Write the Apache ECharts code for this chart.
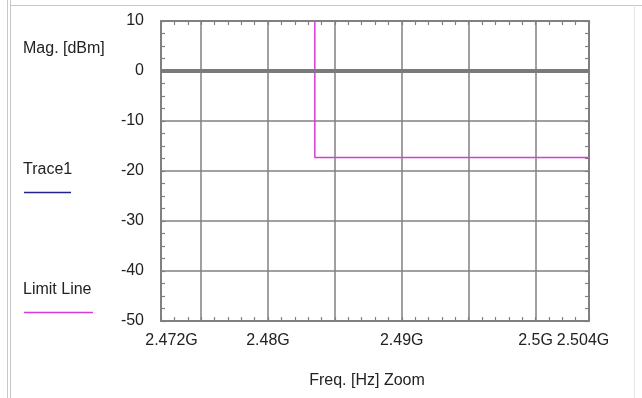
<!DOCTYPE html>
<html><head><meta charset="utf-8">
<script src="https://cdn.jsdelivr.net/npm/echarts@6/dist/echarts.min.js"></script>
<style>html,body{margin:0;padding:0;background:#fff}#c{width:642px;height:398px}</style>
</head><body><div id="c"></div><script>
// Frequencies in MHz, magnitudes in dBm
const freqMin = 2472, freqMax = 2504;
const magMin = -50, magMax = 10;
const xTickLabels = {2472: '2.472G', 2480: '2.48G', 2490: '2.49G', 2500: '2.5G', 2504: '2.504G'};
const gridFreqs = [2475, 2480, 2485, 2490, 2495, 2500];
const refLevels = [0];
const trace1Freq = [];
const trace1Mag = [];
const limitFreq = [2483.5, 2483.5, 2504];
const limitMag = [10, -17.3, -17.3];
const seriesNames = ['Trace1', 'Limit Line'];
const xAxisName = 'Freq. [Hz] Zoom';
const yAxisName = 'Mag. [dBm]';

const FONT = 'Liberation Sans';
const FS = 16;
const AX = '#808080';
const MAG = '#d63cd6';
const NAVY = '#23238f';

const chart = echarts.init(document.getElementById('c'), null, {renderer: 'canvas'});

function xLabel(v) {
  const k = Math.round(v);
  const t = xTickLabels[k];
  if (!t) return '';
  if (k === freqMin) return '{l|' + t + '}';
  if (k === freqMax) return '{r|' + t + '}';
  return t;
}

const baseX = {
  type: 'value', min: freqMin, max: freqMax, interval: 1,
  axisLine: {show: true, onZero: false, lineStyle: {color: AX, width: 2}},
  axisTick: {show: true, inside: true, length: 4, lineStyle: {color: AX, width: 1.2}},
  splitLine: {show: false}
};
const baseY = {
  type: 'value', min: magMin, max: magMax, interval: 10,
  axisLine: {show: true, onZero: false, lineStyle: {color: AX, width: 2}},
  axisTick: {show: true, inside: true, length: 4, lineStyle: {color: AX, width: 1.2}},
  minorTick: {show: true, splitNumber: 4, length: 4, lineStyle: {color: AX, width: 1.2}}
};

const option = {
  animation: false,
  backgroundColor: '#fff',
  textStyle: {fontFamily: FONT},
  grid: {left: 161, right: 53, top: 21, bottom: 77, containLabel: false},
  xAxis: [
    Object.assign({}, baseX, {
      position: 'bottom',
      axisLabel: {
        show: true, margin: 12, color: '#222', fontSize: FS, fontFamily: FONT,
        formatter: xLabel,
        rich: {
          l: {fontSize: FS, fontFamily: FONT, color: '#222', padding: [0, 0, 0, 21]},
          r: {fontSize: FS, fontFamily: FONT, color: '#222', padding: [0, 12, 0, 0]}
        }
      },
      name: xAxisName, nameLocation: 'middle', nameGap: 52,
      nameTextStyle: {color: '#222', fontSize: FS, fontFamily: FONT, padding: [0, 16, 0, 0]}
    }),
    Object.assign({}, baseX, {position: 'top', axisLabel: {show: false}})
  ],
  yAxis: [
    Object.assign({}, baseY, {
      position: 'left',
      splitLine: {show: true, lineStyle: {color: AX, width: 1.5}},
      axisLabel: {show: true, margin: 17, color: '#222', fontSize: FS, fontFamily: FONT}
    }),
    Object.assign({}, baseY, {position: 'right', splitLine: {show: false}, axisLabel: {show: false}})
  ],
  series: [
    {
      name: 'grid', type: 'line', data: [], silent: true, z: 1,
      markLine: {
        silent: true, symbol: 'none', label: {show: false}, animation: false,
        lineStyle: {color: AX, width: 1.5, type: 'solid'},
        data: gridFreqs.map(f => ({xAxis: f})).concat(
          refLevels.map(m => ({yAxis: m, lineStyle: {color: '#7a7a7a', width: 4, type: 'solid'}})))
      }
    },
    {
      name: seriesNames[0], type: 'line', symbol: 'none', z: 3,
      lineStyle: {color: NAVY, width: 1.5}, itemStyle: {color: NAVY},
      data: trace1Freq.map((f, i) => [f, trace1Mag[i]])
    },
    {
      name: seriesNames[1], type: 'line', symbol: 'none', z: 4,
      lineStyle: {color: MAG, width: 1.5}, itemStyle: {color: MAG},
      data: limitFreq.map((f, i) => [f, limitMag[i]])
    }
  ],
  graphic: [
    // frame
    {type: 'line', shape: {x1: 10, y1: 5.5, x2: 642, y2: 5.5}, style: {stroke: '#c8c8c8', lineWidth: 1}, silent: true},
    {type: 'line', shape: {x1: 7.5, y1: 0, x2: 7.5, y2: 398}, style: {stroke: '#c8c8c8', lineWidth: 1}, silent: true},
    {type: 'line', shape: {x1: 10.5, y1: 0, x2: 10.5, y2: 398}, style: {stroke: '#c8c8c8', lineWidth: 1}, silent: true},
    {type: 'line', shape: {x1: 634.5, y1: 5, x2: 634.5, y2: 398}, style: {stroke: '#e4e4e4', lineWidth: 1}, silent: true},
    // y axis name
    {type: 'text', left: 23, top: 41, style: {text: yAxisName, fill: '#222', font: FS + 'px "' + FONT + '"'}, silent: true},
    // legend
    {type: 'text', left: 23, top: 162, style: {text: seriesNames[0], fill: '#222', font: FS + 'px "' + FONT + '"'}, silent: true},
    {type: 'line', shape: {x1: 24, y1: 192.5, x2: 71, y2: 192.5}, style: {stroke: NAVY, lineWidth: 1.5}, silent: true},
    {type: 'text', left: 23, top: 282, style: {text: seriesNames[1], fill: '#222', font: FS + 'px "' + FONT + '"'}, silent: true},
    {type: 'line', shape: {x1: 24, y1: 312.5, x2: 93, y2: 312.5}, style: {stroke: MAG, lineWidth: 1.5}, silent: true}
  ]
};
chart.setOption(option);
</script></body></html>
